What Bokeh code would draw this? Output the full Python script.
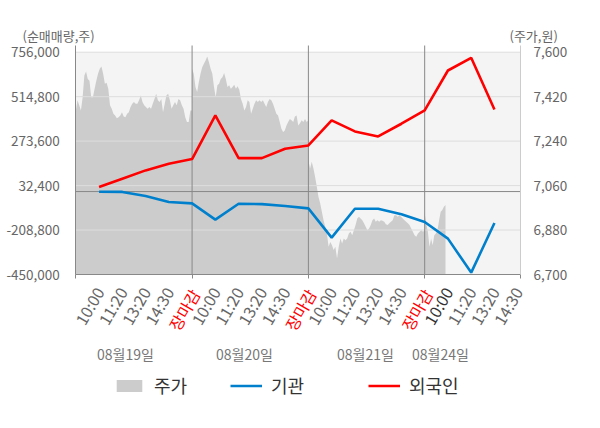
import numpy as np
from math import pi
from bokeh.plotting import figure
from bokeh.models import (Range1d, LinearAxis, FixedTicker, NumeralTickFormatter,
                          Label, Legend, LegendItem)
from bokeh.core.properties import value
from bokeh.embed import file_html
from bokeh.resources import INLINE

# ---------------- data ----------------
time_labels = ["10:00", "11:20", "13:20", "14:30", "장마감",
               "10:00", "11:20", "13:20", "14:30", "장마감",
               "10:00", "11:20", "13:20", "14:30", "장마감",
               "10:00", "11:20", "13:20", "14:30"]
date_labels = ["08월19일", "08월20일", "08월21일", "08월24일"]

# net buying (shares) at each time tick
foreign = [24300, 69800, 114800, 151100, 176100,
           412900, 181500, 181500, 232400, 250300,
           385800, 326200, 299100, 367900, 440000,
           656800, 725600, 445400]
institution = [-1000, -2000, -24500, -57000, -64000,
               -152400, -66000, -68000, -78700, -91100,
               -250000, -93000, -93000, -123700, -165400,
               -255400, -439700, -170800]

# intraday price (won)
price_day1 = [7364, 7405, 7385, 7364, 7418, 7506, 7522, 7492, 7484, 7418,
              7418, 7452, 7484, 7513, 7533, 7542, 7513, 7472, 7476, 7452,
              7385, 7371, 7351, 7344, 7333, 7337, 7344, 7357, 7340, 7337,
              7351, 7357, 7378, 7391, 7398, 7391, 7391, 7405, 7425, 7398,
              7385, 7378, 7371, 7378, 7371, 7391, 7411, 7432, 7405, 7398,
              7411, 7357, 7391, 7425, 7432, 7405, 7371, 7385, 7398, 7385,
              7411, 7405, 7385, 7371, 7337, 7317, 7317, 7364, 7364]
price_day2 = [7533, 7513, 7459, 7439, 7479, 7513, 7539, 7553, 7566, 7583,
              7559, 7533, 7513, 7459, 7418, 7466, 7472, 7492, 7499, 7516,
              7492, 7459, 7466, 7452, 7459, 7468, 7452, 7462, 7448, 7411,
              7391, 7364, 7378, 7405, 7398, 7351, 7371, 7391, 7405, 7398,
              7405, 7398, 7405, 7391, 7378, 7398, 7411, 7405, 7391, 7371,
              7351, 7344, 7317, 7290, 7277, 7283, 7303, 7317, 7330, 7324,
              7317, 7340, 7344, 7303, 7312, 7324, 7317, 7330, 7317, 7324]
price_day3 = [7162, 7129, 7156, 7129, 7095, 7055, 7014, 6988, 6954, 6920,
              6893, 6866, 6812, 6832, 6818, 6799, 6812, 6765, 6812, 6846,
              6826, 6846, 6839, 6846, 6866, 6873, 6859, 6879, 6900, 6927,
              6934, 6927, 6920, 6907, 6893, 6879, 6886, 6900, 6920, 6927,
              6914, 6920, 6914, 6920, 6918, 6914, 6903, 6900, 6907, 6914,
              6920, 6940, 6940, 6934, 6940, 6934, 6927, 6920, 6914, 6907,
              6900, 6886, 6873, 6859, 6853, 6866, 6873, 6879, 6873, 6879]
price_day4 = [6947, 6907, 6873, 6812, 6846, 6818, 6859, 6866, 6879, 6920,
              6954, 6961, 6974, 6981]

left_ticks = [-450000, -208800, 32400, 273600, 514800, 756000]
right_ticks = [6700, 6880, 7060, 7240, 7420, 7600]

# ---------------- layout ----------------
FONT = "Noto Sans CJK KR"
W, H = 584, 412
LEFT_OFF, TOP_OFF = 0, 0          # observed page position of the canvas
CX0, CX1 = 75.3, 520.0            # picture x of chart left / right edge
X_END = 19.12
GY_TOP, GY_BOT = 51.7, 274.0      # picture y of top / bottom tick
CHART_TOP_PX = 45.0

PX_PER_X = (CX1 - CX0) / X_END
x_lo = -(CX0 - LEFT_OFF) / PX_PER_X
x_hi = X_END + (LEFT_OFF + W - CX1) / PX_PER_X
per_px = (left_ticks[-1] - left_ticks[0]) / (GY_BOT - GY_TOP)
y_hi = left_ticks[-1] + (GY_TOP - TOP_OFF) * per_px
y_lo = y_hi - H * per_px
pper = (right_ticks[-1] - right_ticks[0]) / (GY_BOT - GY_TOP)
p_hi = right_ticks[-1] + (GY_TOP - TOP_OFF) * pper
p_lo = p_hi - H * pper


def dx(px):
    return x_lo + (px - LEFT_OFF) / PX_PER_X


def dy(py):
    return y_hi - (py - TOP_OFF) * per_px


chart_top = dy(CHART_TOP_PX)
price_top = p_hi - (CHART_TOP_PX - TOP_OFF) * pper

p = figure(width=W, height=H, x_range=Range1d(x_lo, x_hi), y_range=Range1d(y_lo, y_hi),
           output_backend="svg", toolbar_location=None,
           x_axis_location=None, y_axis_location=None,
           min_border=0, min_border_left=0, min_border_right=0, min_border_top=0, min_border_bottom=0,
           background_fill_color="white", border_fill_color="white", outline_line_color=None)
p.extra_y_ranges = {"price": Range1d(p_lo, p_hi)}
p.xgrid.visible = False
p.ygrid.visible = False

# background band of the chart area
p.quad(left=0, right=X_END, bottom=left_ticks[0], top=left_ticks[-1],
       fill_color="#f4f4f4", line_color=None, level="image")

# price area
day_prices = [price_day1, price_day2, price_day3, price_day4]
day4_span = dx(445) - 15
xs, ys = [], []
for d, prices in enumerate(day_prices):
    span = 5 if d < 3 else day4_span
    xs.extend(np.linspace(5 * d, 5 * d + span, len(prices)))
    ys.extend(prices)
area = p.varea(x=xs, y1=[right_ticks[0]] * len(xs), y2=ys, y_range_name="price",
               fill_color="#cccccc", level="image")

# horizontal grid lines
p.segment(x0=[0] * len(left_ticks), x1=[X_END] * len(left_ticks),
          y0=left_ticks, y1=left_ticks, line_color="#dddddd", line_width=1, level="underlay")
# zero line and day separators
p.segment(x0=[0], x1=[X_END], y0=[0], y1=[0], line_color="#888888", line_width=1, level="underlay")
seps = [5, 10, 15]
p.segment(x0=seps, x1=seps, y0=[left_ticks[0]] * 3, y1=[chart_top] * 3,
          line_color="#888888", line_width=1, level="underlay")

# lines
xk = list(range(1, len(foreign) + 1))
blue = p.line(x=xk, y=institution, line_color="#0080cc", line_width=2.6)
red = p.line(x=xk, y=foreign, line_color="#ff0000", line_width=2.6)

# axes
lax = LinearAxis(fixed_location=0, bounds=(left_ticks[0], chart_top),
                 ticker=FixedTicker(ticks=left_ticks), formatter=NumeralTickFormatter(format="0,0"),
                 axis_line_color="#888888", major_tick_line_color=None, minor_tick_line_color=None,
                 major_label_text_font=FONT, major_label_text_font_size="13.5px",
                 major_label_text_color="#666666", major_label_standoff=10)
p.add_layout(lax, "left")

rax = LinearAxis(y_range_name="price", fixed_location=X_END, bounds=(right_ticks[0], price_top),
                 ticker=FixedTicker(ticks=right_ticks), formatter=NumeralTickFormatter(format="0,0"),
                 axis_line_color="#cccccc", major_tick_line_color=None, minor_tick_line_color=None,
                 major_label_text_font=FONT, major_label_text_font_size="13.5px",
                 major_label_text_color="#666666", major_label_standoff=7)
p.add_layout(rax, "right")

bax = LinearAxis(fixed_location=left_ticks[0], bounds=(0, X_END),
                 ticker=FixedTicker(ticks=[0, 5, 10, 15, X_END]),
                 axis_line_color="#888888", major_tick_line_color="#888888",
                 major_tick_out=4, major_tick_in=0, minor_tick_line_color=None,
                 major_label_text_color=None)
p.add_layout(bax, "below")

# rotated time labels
label_colors = ["#ff0000" if t == "장마감" else ("#333333" if i == 15 else "#666666")
                for i, t in enumerate(time_labels)]
shift = 3 / PX_PER_X
label_x = [i + 1 + (shift if t == "장마감" else 0) for i, t in enumerate(time_labels)]
label_y = [dy(290) if t == "장마감" else dy(288) for t in time_labels]
p.text(x=label_x, y=label_y, text=time_labels, angle=pi / 3,
       text_align="right", text_baseline="middle", text_font=value(FONT),
       text_font_size="16px", text_color=label_colors)

# date labels
date_px = [125, 244, 365, 440]
p.text(x=[dx(c) for c in date_px], y=[dy(353)] * len(date_labels), text=date_labels,
       text_align="center", text_baseline="middle", text_font=value(FONT),
       text_font_size="14px", text_color="#777777")

# axis titles
p.add_layout(Label(x=dx(22), y=dy(34.5), text="(순매매량,주)", text_align="left",
                   text_baseline="middle", text_font=FONT, text_font_size="13px", text_color="#666666"))
p.add_layout(Label(x=dx(509), y=dy(34.5), text="(주가,원)", text_align="left",
                   text_baseline="middle", text_font=FONT, text_font_size="13px", text_color="#666666"))

# legends
for lab, rend, lx in [("주가", area, 113), ("기관", blue, 230), ("외국인", red, 368)]:
    leg = Legend(items=[LegendItem(label=lab, renderers=[rend])],
                 location=(lx - LEFT_OFF, H - (398 - TOP_OFF)), orientation="horizontal",
                 glyph_width=32, glyph_height=15, label_standoff=9,
                 label_text_font=FONT, label_text_font_size="18px", label_text_color="#333333",
                 padding=0, margin=0, spacing=0, border_line_color=None,
                 background_fill_alpha=0)
    p.add_layout(leg)

open("out.html", "w").write(file_html(p, INLINE))
